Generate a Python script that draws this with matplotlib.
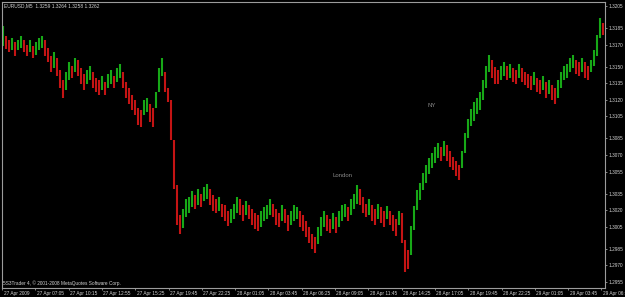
import matplotlib
matplotlib.use("Agg")
import matplotlib.pyplot as plt
import matplotlib.transforms as mtransforms
import numpy as np

# ---- data (one bar = 15 min, prices) ----
symbol = "EURUSD,M5"
last_quote = "1.3259 1.3264 1.3258 1.3262"
copyright_text = "5S3Trader 4, \u00a9 2001-2008 MetaQuotes Software Corp."

highs = [
    1.3187, 1.3178, 1.3174, 1.3176, 1.3172, 1.3174, 1.3178, 1.3174, 1.3170, 1.3174,
    1.3169, 1.3172, 1.3176, 1.3178, 1.3174, 1.3167, 1.3160, 1.3163, 1.3158, 1.3147,
    1.3138, 1.3145, 1.3154, 1.3151, 1.3158, 1.3156, 1.3149, 1.3143, 1.3147, 1.3151,
    1.3145, 1.3140, 1.3138, 1.3142, 1.3136, 1.3143, 1.3147, 1.3142, 1.3149, 1.3152,
    1.3145, 1.3136, 1.3131, 1.3124, 1.3120, 1.3113, 1.3111, 1.3120, 1.3122, 1.3116,
    1.3113, 1.3127, 1.3149, 1.3158, 1.3145, 1.3131, 1.3120, 1.3084, 1.3043, 1.3016,
    1.3021, 1.3030, 1.3032, 1.3037, 1.3034, 1.3039, 1.3035, 1.3041, 1.3044, 1.3039,
    1.3034, 1.3030, 1.3032, 1.3026, 1.3025, 1.3019, 1.3021, 1.3026, 1.3032, 1.3030,
    1.3025, 1.3028, 1.3025, 1.3021, 1.3017, 1.3016, 1.3019, 1.3023, 1.3025, 1.3030,
    1.3026, 1.3021, 1.3017, 1.3025, 1.3021, 1.3016, 1.3019, 1.3025, 1.3023, 1.3019,
    1.3016, 1.3010, 1.3005, 1.2998, 1.2996, 1.3005, 1.3014, 1.3019, 1.3016, 1.3012,
    1.3017, 1.3014, 1.3019, 1.3025, 1.3026, 1.3023, 1.3030, 1.3035, 1.3043, 1.3039,
    1.3032, 1.3026, 1.3030, 1.3025, 1.3021, 1.3026, 1.3023, 1.3019, 1.3024, 1.3019,
    1.3016, 1.3012, 1.3019, 1.3017, 1.2993, 1.2984, 1.3006, 1.3024, 1.3038, 1.3045,
    1.3054, 1.3061, 1.3067, 1.3072, 1.3077, 1.3081, 1.3077, 1.3083, 1.3079, 1.3074,
    1.3068, 1.3065, 1.3061, 1.3074, 1.3090, 1.3103, 1.3112, 1.3118, 1.3122, 1.3127,
    1.3138, 1.3151, 1.3161, 1.3156, 1.3150, 1.3147, 1.3151, 1.3154, 1.3151, 1.3152,
    1.3149, 1.3147, 1.3152, 1.3149, 1.3145, 1.3143, 1.3142, 1.3145, 1.3140, 1.3138,
    1.3142, 1.3136, 1.3138, 1.3133, 1.3131, 1.3138, 1.3145, 1.3151, 1.3152, 1.3158,
    1.3161, 1.3156, 1.3154, 1.3158, 1.3154, 1.3151, 1.3156, 1.3165, 1.3179, 1.3194,
    1.3190,
]
lows = [
    1.3169, 1.3166, 1.3163, 1.3165, 1.3160, 1.3165, 1.3167, 1.3163, 1.3160, 1.3163,
    1.3158, 1.3161, 1.3165, 1.3167, 1.3160, 1.3154, 1.3145, 1.3149, 1.3142, 1.3131,
    1.3122, 1.3129, 1.3138, 1.3140, 1.3145, 1.3142, 1.3134, 1.3129, 1.3134, 1.3138,
    1.3131, 1.3127, 1.3124, 1.3129, 1.3124, 1.3131, 1.3134, 1.3131, 1.3136, 1.3140,
    1.3131, 1.3122, 1.3116, 1.3111, 1.3106, 1.3097, 1.3095, 1.3106, 1.3109, 1.3100,
    1.3095, 1.3113, 1.3127, 1.3142, 1.3127, 1.3118, 1.3084, 1.3039, 1.3007, 1.2998,
    1.3004, 1.3014, 1.3017, 1.3023, 1.3021, 1.3025, 1.3023, 1.3028, 1.3030, 1.3025,
    1.3019, 1.3017, 1.3019, 1.3014, 1.3010, 1.3006, 1.3008, 1.3012, 1.3017, 1.3016,
    1.3010, 1.3016, 1.3012, 1.3007, 1.3003, 1.3001, 1.3005, 1.3010, 1.3012, 1.3016,
    1.3014, 1.3007, 1.3005, 1.3010, 1.3008, 1.3001, 1.3007, 1.3010, 1.3012, 1.3005,
    1.3001, 1.2996, 1.2990, 1.2985, 1.2981, 1.2989, 1.2997, 1.3005, 1.3001, 1.2999,
    1.3003, 1.2999, 1.3005, 1.3010, 1.3014, 1.3010, 1.3016, 1.3021, 1.3026, 1.3025,
    1.3017, 1.3014, 1.3016, 1.3010, 1.3007, 1.3012, 1.3008, 1.3005, 1.3012, 1.3007,
    1.3001, 1.2997, 1.3007, 1.2990, 1.2964, 1.2967, 1.2979, 1.3002, 1.3020, 1.3029,
    1.3038, 1.3045, 1.3053, 1.3058, 1.3063, 1.3067, 1.3065, 1.3069, 1.3065, 1.3059,
    1.3056, 1.3051, 1.3047, 1.3058, 1.3072, 1.3085, 1.3096, 1.3101, 1.3107, 1.3111,
    1.3120, 1.3131, 1.3145, 1.3140, 1.3134, 1.3134, 1.3138, 1.3142, 1.3138, 1.3140,
    1.3136, 1.3134, 1.3140, 1.3136, 1.3133, 1.3131, 1.3129, 1.3133, 1.3127, 1.3125,
    1.3129, 1.3122, 1.3125, 1.3120, 1.3116, 1.3122, 1.3131, 1.3138, 1.3140, 1.3145,
    1.3149, 1.3143, 1.3142, 1.3145, 1.3140, 1.3138, 1.3145, 1.3151, 1.3160, 1.3176,
    1.3179,
]

y_ticks = [1.3205, 1.3185, 1.3170, 1.3150, 1.3135, 1.3120, 1.3105, 1.3085,
           1.3070, 1.3055, 1.3035, 1.3020, 1.3005, 1.2985, 1.2970, 1.2955]
x_labels = ["27 Apr 2009", "27 Apr 07:05", "27 Apr 10:15", "27 Apr 12:55",
            "27 Apr 15:25", "27 Apr 19:45", "27 Apr 22:25", "28 Apr 01:05",
            "28 Apr 03:45", "28 Apr 06:25", "28 Apr 09:05", "28 Apr 11:45",
            "28 Apr 14:25", "28 Apr 17:05", "28 Apr 19:45", "28 Apr 22:25",
            "29 Apr 01:05", "29 Apr 03:45", "29 Apr 06:25"]

UP = "#17a817"
DOWN = "#c41414"
FRAME = "#9c9c9c"
TXT = "#d4d4d4"
plt.rcParams["font.family"] = ["Liberation Sans", "DejaVu Sans"]

highs = np.array(highs); lows = np.array(lows)
mids = (highs + lows) / 2
idx = np.arange(len(highs))
up = np.r_[True, mids[1:] >= mids[:-1]]
cols = np.where(up, UP, DOWN)

fig = plt.figure(figsize=(6.25, 2.97), dpi=100, facecolor="black")
ax = fig.add_axes([2 / 625, 9 / 297, 603 / 625, 286 / 297], facecolor="black")

ax.vlines(idx, lows, highs, colors=cols, linewidth=1.5)

ax.set_xlim(-1 / 3, 602 / 3)
ax.set_ylim(1.29495, 1.32086)

for s in ax.spines.values():
    s.set_color(FRAME); s.set_linewidth(0.8)

ax.yaxis.tick_right()
ax.set_yticks(y_ticks)
ax.set_yticklabels([f"{v:.4f}" for v in y_ticks])
ax.set_xticks(np.arange(len(x_labels)) * 11.1 - 1 / 3)
ax.set_xticklabels(x_labels, ha="left")
ax.tick_params(colors=FRAME, labelcolor=TXT, labelsize=3.4, length=1.6,
               width=0.6, pad=1.0)
ax.tick_params(axis="x", pad=0.2)
shift = mtransforms.ScaledTranslation(1.5 / 100, 0, fig.dpi_scale_trans)
for lb in ax.get_xticklabels():
    lb.set_transform(lb.get_transform() + shift)

ax.text(2 / 603, 1 - 4 / 286, f"{symbol}  {last_quote}", transform=ax.transAxes,
        fontsize=3.5, color=TXT, ha="left", va="center")
ax.text(1 / 603, 5 / 286, copyright_text, transform=ax.transAxes,
        fontsize=3.4, color=TXT, ha="left", va="center")
ax.text(113.3, 1.3051, "London", fontsize=4.3, color="#8a8a8a",
        ha="center", va="center")
ax.text(143, 1.3115, "NY", fontsize=4.3, color="#8a8a8a",
        ha="center", va="center")

fig.savefig("out.png", dpi=100, facecolor="black")
